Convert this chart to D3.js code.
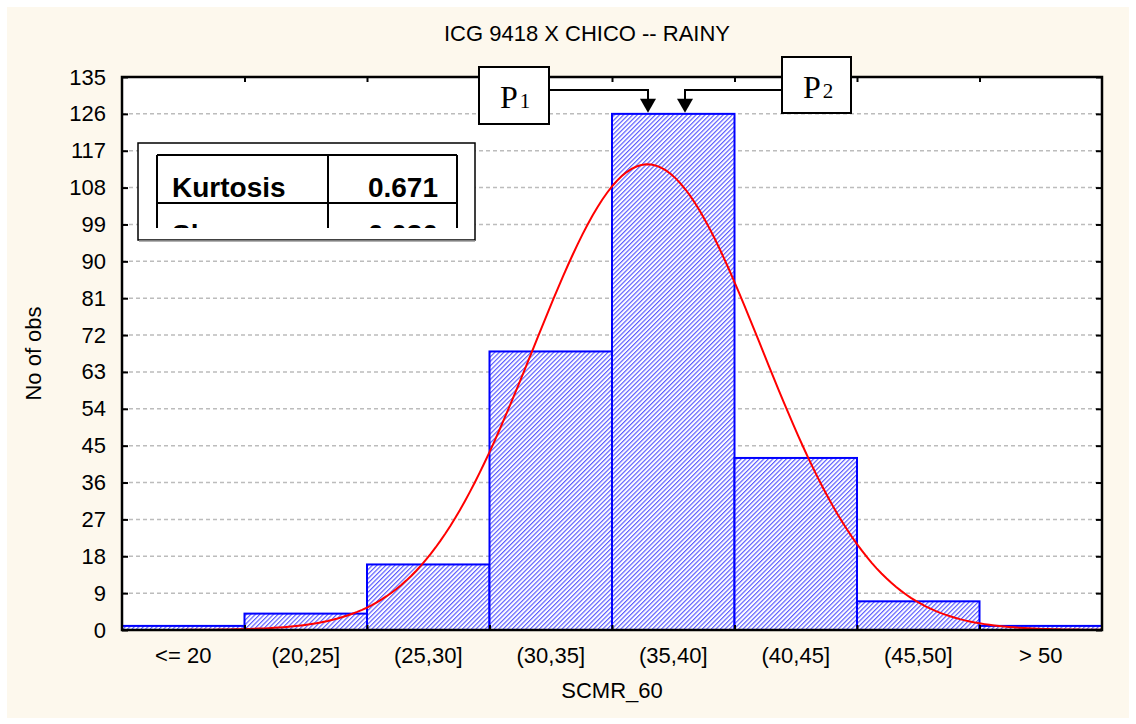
<!DOCTYPE html>
<meta charset="utf-8">
<style>
  body { margin: 0; background: #fff; }
  text { font-family: "Liberation Sans", Arial, sans-serif; fill: #000; }
  .grid line { stroke: #bcbcbc; stroke-width: 1.5px; stroke-dasharray: 4,3; }
  .bar { fill: url(#hatch); stroke: #0000ff; stroke-width: 2px; }
  .fit { fill: none; stroke: #ff0000; stroke-width: 2px; }
  .tick-label { font-size: 22px; }
  .ptext { font-family: "Liberation Serif", "Times New Roman", serif; }
</style>
<svg width="1136" height="724"></svg>
<script src="https://d3js.org/d3.v7.min.js"></script>
<script>

    // data
    var categories = ["<= 20", "(20,25]", "(25,30]", "(30,35]", "(35,40]", "(40,45]", "(45,50]", "> 50"];
    var counts = [1, 4, 16, 68, 126, 42, 7, 1];
    var yTicks = [0, 9, 18, 27, 36, 45, 54, 63, 72, 81, 90, 99, 108, 117, 126, 135];
    var binEdges = [15, 20, 25, 30, 35, 40, 45, 50, 55];
    var statNames = ["Kurtosis", "Skewness"];
    var statValues = ["0.671", "0.030"];
    // fitted normal: mean, sd, bin width
    var fitMean = 36.45, fitSd = 4.65, binWidth = 5;

    var svg = d3.select("svg"),
        margin = {left: 122, right: 34, top: 77, bottom: 94},
        width = +svg.attr("width"),
        height = +svg.attr("height"),
        x0 = margin.left, x1 = width - margin.right,
        y0 = height - margin.bottom, y1 = margin.top;

    // cream page
    svg.append("rect").attr("x", 7).attr("y", 7).attr("width", 1122).attr("height", 711).attr("fill", "#fdf8ed");

    var defs = svg.append("defs");
    var pat = defs.append("pattern")
        .attr("id", "hatch")
        .attr("patternUnits", "userSpaceOnUse")
        .attr("width", 3.2).attr("height", 3.2)
        .attr("patternTransform", "rotate(45)");
    pat.append("rect").attr("width", 3.2).attr("height", 3.2).attr("fill", "#fff");
    pat.append("line").attr("x1", 0.6).attr("y1", 0).attr("x2", 0.6).attr("y2", 3.2)
        .attr("stroke", "#5050ff").attr("stroke-width", 1.1);

    var x = d3.scaleBand().domain(categories).range([x0, x1]).padding(0);
    var xv = d3.scaleLinear().domain([binEdges[0], binEdges[binEdges.length - 1]]).range([x0, x1]);
    var y = d3.scaleLinear().domain([0, 135]).range([y0, y1]);

    // plot background
    svg.append("rect").attr("x", x0).attr("y", y1).attr("width", x1 - x0).attr("height", y0 - y1).attr("fill", "#fff");

    // gridlines
    svg.append("g").attr("class", "grid")
        .selectAll("line")
        .data(yTicks.filter(function(d) { return d > 0 && d < 135; }))
        .enter().append("line")
        .attr("x1", x0).attr("x2", x1)
        .attr("y1", function(d) { return y(d); }).attr("y2", function(d) { return y(d); });

    // bars
    svg.append("g").selectAll("rect")
        .data(counts)
        .enter().append("rect")
        .attr("class", "bar")
        .attr("x", function(d, i) { return x(categories[i]); })
        .attr("width", x.bandwidth())
        .attr("y", function(d) { return y(d); })
        .attr("height", function(d) { return y0 - y(d); });

    // fitted normal curve
    var n = d3.sum(counts);
    function expected(v) {
        return n * binWidth / (fitSd * Math.sqrt(2 * Math.PI)) * Math.exp(-0.5 * Math.pow((v - fitMean) / fitSd, 2));
    }
    var curve = d3.range(binEdges[0], binEdges[binEdges.length - 1] + 0.01, 0.2);
    svg.append("path")
        .attr("class", "fit")
        .attr("d", d3.line().x(function(v) { return xv(v); }).y(function(v) { return y(expected(v)); })(curve));

    // axes
    var innerEdges = binEdges.slice(1, -1);
    svg.append("g").attr("transform", "translate(" + x0 + ",0)")
        .call(d3.axisLeft(y).tickValues(yTicks).tickSize(-6).tickPadding(16))
        .call(function(g) {
            g.select(".domain").remove();
            g.selectAll("text").attr("class", "tick-label").attr("font-size", null).attr("font-family", null);
            g.selectAll("line").attr("stroke-width", 2);
        });
    svg.append("g").attr("transform", "translate(" + x1 + ",0)")
        .call(d3.axisRight(y).tickValues(yTicks).tickSize(-6).tickFormat(""))
        .call(function(g) {
            g.select(".domain").remove();
            g.selectAll("line").attr("stroke-width", 2);
        });
    svg.append("g").attr("transform", "translate(0," + y0 + ")")
        .call(d3.axisBottom(xv).tickValues(innerEdges).tickSize(-5).tickFormat(""))
        .call(function(g) { g.select(".domain").remove(); g.selectAll("line").attr("stroke-width", 2); });
    svg.append("g").attr("transform", "translate(0," + y1 + ")")
        .call(d3.axisTop(xv).tickValues(innerEdges).tickSize(-5).tickFormat(""))
        .call(function(g) { g.select(".domain").remove(); g.selectAll("line").attr("stroke-width", 2); });

    svg.append("g").selectAll("text")
        .data(categories)
        .enter().append("text")
        .attr("class", "tick-label")
        .attr("x", function(d) { return x(d) + x.bandwidth() / 2; })
        .attr("y", y0 + 33)
        .attr("text-anchor", "middle")
        .text(function(d) { return d; });

    // frame
    svg.append("rect").attr("x", x0).attr("y", y1).attr("width", x1 - x0).attr("height", y0 - y1)
        .attr("fill", "none").attr("stroke", "#000").attr("stroke-width", 2.5);

    // titles
    svg.append("text").attr("x", 587).attr("y", 41).attr("text-anchor", "middle")
        .attr("font-size", 22).text("ICG 9418 X CHICO -- RAINY");
    svg.append("text").attr("x", (x0 + x1) / 2).attr("y", 698).attr("text-anchor", "middle")
        .attr("font-size", 22).text("SCMR_60");
    svg.append("text").attr("transform", "translate(41," + ((y0 + y1) / 2) + ") rotate(-90)")
        .attr("text-anchor", "middle").attr("font-size", 22).text("No of obs");

    // stats box (clipped, as in the original)
    defs.append("clipPath").attr("id", "statclip")
        .append("rect").attr("x", 138).attr("y", 143).attr("width", 337).attr("height", 85);
    svg.append("rect").attr("x", 138).attr("y", 143).attr("width", 337).attr("height", 97)
        .attr("fill", "#fff").attr("stroke", "#000").attr("stroke-width", 1.5);
    svg.append("line").attr("x1", 139).attr("x2", 475).attr("y1", 241).attr("y2", 241)
        .attr("stroke", "#999").attr("stroke-width", 1.5);
    var st = svg.append("g").attr("clip-path", "url(#statclip)");
    st.append("line").attr("x1", 157).attr("x2", 457).attr("y1", 155).attr("y2", 155).attr("stroke", "#000").attr("stroke-width", 2);
    [157, 328, 457].forEach(function(cx) {
        st.append("line").attr("x1", cx).attr("x2", cx).attr("y1", 155).attr("y2", 300).attr("stroke", "#000").attr("stroke-width", 2);
    });
    statNames.forEach(function(name, i) {
        var by = 197 + i * 47;
        st.append("line").attr("x1", 157).attr("x2", 457).attr("y1", 203 + i * 47).attr("y2", 203 + i * 47)
            .attr("stroke", "#000").attr("stroke-width", 2);
        st.append("text").attr("x", 172).attr("y", by).attr("font-size", 28).attr("font-weight", "bold").text(name);
        st.append("text").attr("x", 438).attr("y", by).attr("font-size", 28).attr("font-weight", "bold")
            .attr("text-anchor", "end").text(statValues[i]);
    });

    // P1 / P2 callouts
    var callouts = [
        {label: "P", sub: "1", box: [479, 67, 70, 57], from: 549, to: 648},
        {label: "P", sub: "2", box: [782, 57, 69, 56], from: 782, to: 685}
    ];
    callouts.forEach(function(c) {
        var tipY = y(126) - 1, lineY = 90;
        svg.append("path")
            .attr("d", "M" + c.from + "," + lineY + "H" + c.to + "V" + (tipY - 12))
            .attr("fill", "none").attr("stroke", "#000").attr("stroke-width", 2);
        svg.append("path")
            .attr("d", "M" + (c.to - 8) + "," + (tipY - 14) + "L" + (c.to + 8) + "," + (tipY - 14) + "L" + c.to + "," + tipY + "Z")
            .attr("fill", "#000");
        svg.append("rect").attr("x", c.box[0]).attr("y", c.box[1]).attr("width", c.box[2]).attr("height", c.box[3])
            .attr("fill", "#fff").attr("stroke", "#000").attr("stroke-width", 2);
        var t = svg.append("text").attr("class", "ptext")
            .attr("x", c.box[0] + 21).attr("y", c.box[1] + 41).attr("font-size", 32).text(c.label);
        t.append("tspan").attr("font-size", 21).attr("dx", 2).text(c.sub);
    });

</script>
